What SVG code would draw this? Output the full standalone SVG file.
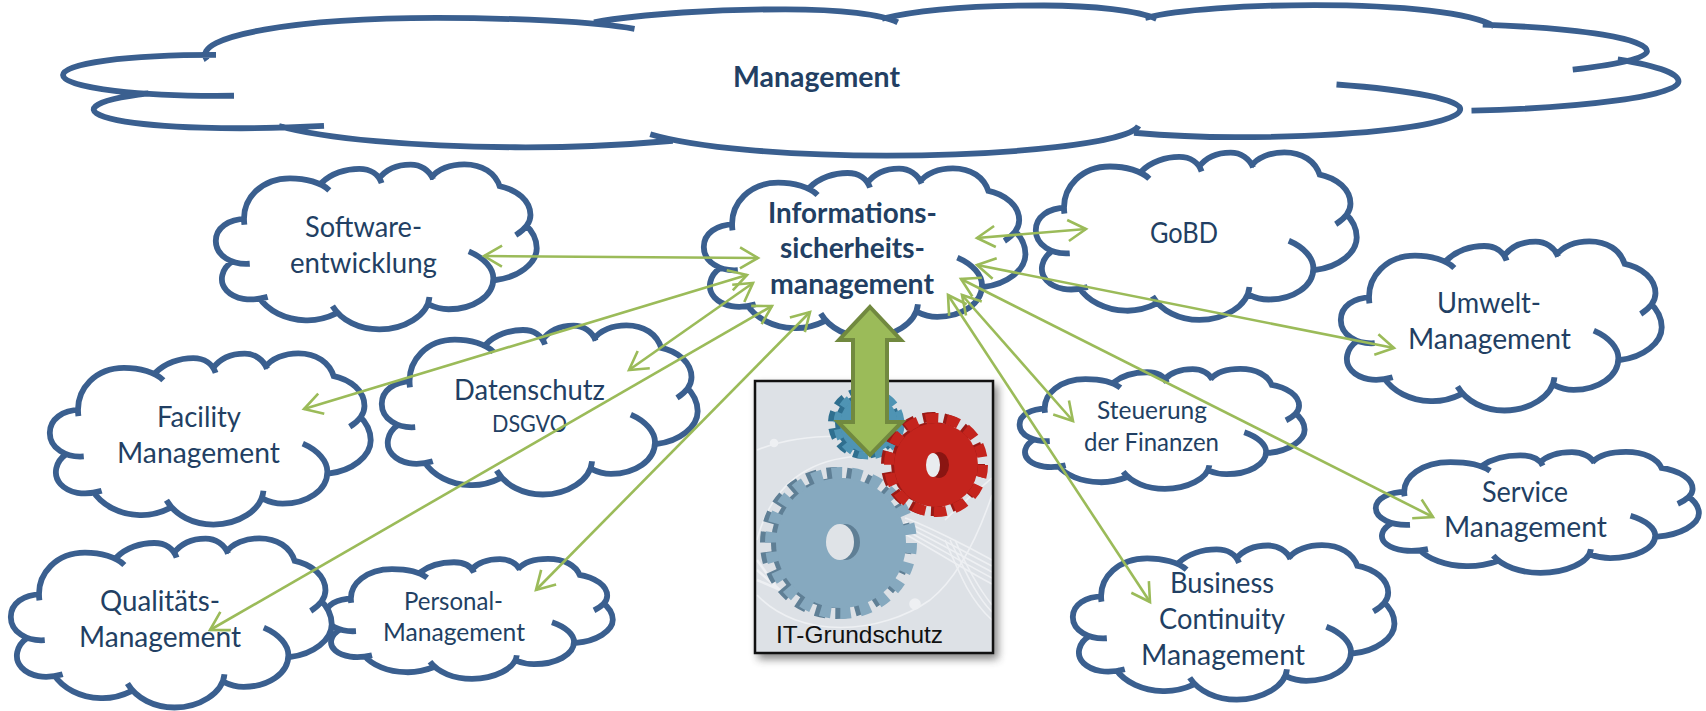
<svg xmlns="http://www.w3.org/2000/svg" width="1706" height="711" viewBox="0 0 1706 711">
<style>
.cb{fill:#fff;stroke:none}
.cs{fill:none;stroke:#3a5f8f;stroke-width:5.8;vector-effect:non-scaling-stroke}
text{font-family:Lato,"Liberation Sans",sans-serif;fill:#223f63;text-anchor:start}
.t{font-size:28px}
.b{font-size:28px;font-weight:700}
.c{fill:none;stroke:#9bbb59;stroke-width:2.6;marker-start:url(#ah);marker-end:url(#ah)}
</style>
<defs>
<marker id="ah" markerUnits="userSpaceOnUse" markerWidth="26" markerHeight="28" viewBox="-22 -14 26 28" refX="0" refY="0" orient="auto-start-reverse"><path d="M-18 -10.5L0 0L-18 10.5" fill="none" stroke="#9bbb59" stroke-width="2.6"/></marker>
<filter id="sh" x="-10%" y="-10%" width="120%" height="120%"><feGaussianBlur stdDeviation="4"/></filter>
<g id="cloud">
<path class="cb" d="M68 190C60 105 110 47 170 47C205 47 240 60 258 84L240 62C262 32 295 18 325 18C350 18 368 35 375 62L368 50C385 18 412 5 440 5C462 5 482 22 490 50L485 47C500 18 530 4 560 4C600 4 630 30 640 75L635 70C680 82 708 118 708 160C708 182 695 205 675 222L695 187C715 212 722 238 722 262C722 310 680 352 630 360L625 355C625 410 580 450 525 450C510 450 495 445 480 435L482 412C478 470 425 512 370 512C325 512 285 485 265 440L275 462C245 482 225 485 205 484C160 482 120 455 100 412L120 412C80 428 46 418 28 392C10 365 16 325 42 302L80 310C40 314 4 285 4 240C4 200 32 172 72 172Z"/>
<path class="cs" d="M68 190C60 105 110 47 170 47C205 47 240 60 258 84M240 62C262 32 295 18 325 18C350 18 368 35 375 62M368 50C385 18 412 5 440 5C462 5 482 22 490 50M485 47C500 18 530 4 560 4C600 4 630 30 640 75M635 70C680 82 708 118 708 160C708 182 695 205 675 222M695 187C715 212 722 238 722 262C722 310 680 352 630 360M570 272C605 292 625 325 625 355C625 410 580 450 525 450C510 450 495 445 480 435M482 412C478 470 425 512 370 512C325 512 285 485 265 440M275 462C245 482 225 485 205 484C160 482 120 455 100 412M120 412C80 428 46 418 28 392C10 365 16 325 42 302M80 310C40 314 4 285 4 240C4 200 32 172 72 172"/>
</g>
</defs>
<rect width="1706" height="711" fill="#fff"/>
<g id="management"><use href="#cloud" transform="translate(54 4) scale(2.25 0.296)"/><text class="b" x="733" y="87" textLength="167" lengthAdjust="spacingAndGlyphs">Management</text></g>
<g id="software"><use href="#cloud" transform="translate(214 163) scale(0.447 0.325)"/><text class="t" x="305" y="237" textLength="117" lengthAdjust="spacingAndGlyphs">Software-</text><text class="t" x="290" y="273" textLength="147" lengthAdjust="spacingAndGlyphs">entwicklung</text></g>
<g id="gobd"><use href="#cloud" transform="translate(1034 151) scale(0.447 0.33)"/><text class="t" x="1150" y="243" textLength="68" lengthAdjust="spacingAndGlyphs">GoBD</text></g>
<g id="info"><use href="#cloud" transform="translate(702 167) scale(0.448 0.333)"/><text class="b" x="768" y="223" textLength="169" lengthAdjust="spacingAndGlyphs">Informations-</text><text class="b" x="780" y="258" textLength="145" lengthAdjust="spacingAndGlyphs">sicherheits-</text><text class="b" x="770" y="294" textLength="164" lengthAdjust="spacingAndGlyphs">management</text></g>
<g id="umwelt"><use href="#cloud" transform="translate(1339 240) scale(0.447 0.333)"/><text class="t" x="1437" y="313" textLength="104" lengthAdjust="spacingAndGlyphs">Umwelt-</text><text class="t" x="1408" y="349" textLength="163" lengthAdjust="spacingAndGlyphs">Management</text></g>
<g id="facility"><use href="#cloud" transform="translate(48 352) scale(0.447 0.337)"/><text class="t" x="157" y="427" textLength="84" lengthAdjust="spacingAndGlyphs">Facility</text><text class="t" x="117" y="463" textLength="163" lengthAdjust="spacingAndGlyphs">Management</text></g>
<g id="datenschutz"><use href="#cloud" transform="translate(380 324) scale(0.44 0.333)"/><text class="t" x="454" y="400" textLength="151" lengthAdjust="spacingAndGlyphs">Datenschutz</text><text class="t" style="font-size:24px" x="492" y="432" textLength="75" lengthAdjust="spacingAndGlyphs">DSGVO</text></g>
<g id="personal"><use href="#cloud" transform="translate(324 558) scale(0.4 0.236)"/><text class="t" style="font-size:25px" x="404" y="610" textLength="99" lengthAdjust="spacingAndGlyphs">Personal-</text><text class="t" style="font-size:25px" x="383" y="641" textLength="142" lengthAdjust="spacingAndGlyphs">Management</text></g>
<g id="qualitaet"><use href="#cloud" transform="translate(9 537) scale(0.447 0.333)"/><text class="t" x="100" y="611" textLength="120" lengthAdjust="spacingAndGlyphs">Qualitäts-</text><text class="t" x="79" y="647" textLength="162" lengthAdjust="spacingAndGlyphs">Management</text></g>
<g id="steuerung"><use href="#cloud" transform="translate(1018 368) scale(0.397 0.236)"/><text class="t" style="font-size:25px" x="1097" y="419" textLength="110" lengthAdjust="spacingAndGlyphs">Steuerung</text><text class="t" style="font-size:25px" x="1084" y="451" textLength="135" lengthAdjust="spacingAndGlyphs">der Finanzen</text></g>
<g id="service"><use href="#cloud" transform="translate(1374 451) scale(0.45 0.238)"/><text class="t" x="1482" y="502" textLength="86" lengthAdjust="spacingAndGlyphs">Service</text><text class="t" x="1444" y="537" textLength="163" lengthAdjust="spacingAndGlyphs">Management</text></g>
<g id="business"><use href="#cloud" transform="translate(1071 544) scale(0.448 0.304)"/><text class="t" x="1170" y="593" textLength="104" lengthAdjust="spacingAndGlyphs">Business</text><text class="t" x="1159" y="629" textLength="126" lengthAdjust="spacingAndGlyphs">Continuity</text><text class="t" x="1141" y="665" textLength="164" lengthAdjust="spacingAndGlyphs">Management</text></g>

<g id="grundschutz">
<rect x="758" y="385" width="240" height="274" fill="#444" opacity=".65" filter="url(#sh)"/>
<rect x="755" y="381" width="238" height="272" fill="#dde1e6"/>
<g fill="none" stroke="#eef0f3" stroke-width="1.6">
<path d="M757 450C790 437 830 432 885 440"/>
<path d="M757 540C775 470 830 450 890 458"/>
<path d="M757 595C800 640 880 635 930 600C955 580 975 545 992 495"/>
<path d="M905 518C925 525 965 545 992 560M905 522C925 530 965 552 992 566M905 526C925 535 965 558 992 572M905 530C925 540 965 564 992 578M905 534C925 545 965 570 992 584"/>
<path d="M950 540C965 570 975 595 992 612M955 540C968 570 980 590 992 605M945 540C960 575 970 600 992 620"/>
<path d="M945 520C960 505 978 490 992 478"/>
<path d="M757 560L775 585M757 570L780 590M757 580L785 592" stroke-width="2.5"/>
<circle cx="774" cy="443" r="3.5" fill="#eef0f3"/><circle cx="915" cy="604" r="5" fill="#eef0f3"/></g>
<circle cx="864" cy="423" r="29" fill="#2f6f8f"/><circle cx="864" cy="423" r="32" fill="none" stroke="#2f6f8f" stroke-width="8" stroke-dasharray="10 7"/>
<circle cx="869" cy="424" r="29" fill="#4f94b4"/><circle cx="869" cy="424" r="32" fill="none" stroke="#4f94b4" stroke-width="7" stroke-dasharray="10 7"/>
<circle cx="836" cy="543" r="65" fill="#5f7f95"/><circle cx="836" cy="543" r="70" fill="none" stroke="#5f7f95" stroke-width="12" stroke-dasharray="10.5 9.5"/>
<circle cx="841" cy="543" r="65" fill="#86a9bf"/><circle cx="841" cy="543" r="70" fill="none" stroke="#86a9bf" stroke-width="12" stroke-dasharray="10.5 9.5"/>
<ellipse cx="845" cy="542" rx="15" ry="18" fill="#5f7f95"/><ellipse cx="840" cy="542" rx="14" ry="18" fill="#dfe3e7"/>
<circle cx="933" cy="464" r="42" fill="#9a1a16"/><circle cx="933" cy="464" r="47" fill="none" stroke="#9a1a16" stroke-width="10" stroke-dasharray="12.5 8.6"/>
<circle cx="936" cy="465" r="42" fill="#c4241d"/><circle cx="936" cy="465" r="47" fill="none" stroke="#c4241d" stroke-width="10" stroke-dasharray="12.5 8.6"/>
<ellipse cx="939" cy="465" rx="10" ry="13" fill="#8a1512"/><ellipse cx="933" cy="465" rx="7" ry="12" fill="#e9ecef"/>
<rect x="755" y="381" width="238" height="272" fill="none" stroke="#111" stroke-width="2.5"/>
<text x="776" y="643" textLength="167" lengthAdjust="spacingAndGlyphs" style="font-family:'Liberation Sans',Arial,sans-serif;font-size:24px;fill:#111">IT-Grundschutz</text>
</g>
<path id="blockarrow" d="M870 307L901 340H887V422H902L870 455L838 422H853V340H839Z" fill="#9bbb59" stroke="#71893f" stroke-width="4" stroke-linejoin="miter"/>

<g id="connectors">
<path class="c" d="M484 256L758 258"/>
<path class="c" d="M977 238L1086 229"/>
<path class="c" d="M304 409L747 275"/>
<path class="c" d="M629 370L753 283"/>
<path class="c" d="M210 630L772 306"/>
<path class="c" d="M536 590L810 312"/>
<path class="c" d="M977 265L1394 348"/>
<path class="c" d="M961 279L1433 517"/>
<path class="c" d="M962 295L1073 421"/>
<path class="c" d="M948 295L1150 602"/>
</g>
</svg>
